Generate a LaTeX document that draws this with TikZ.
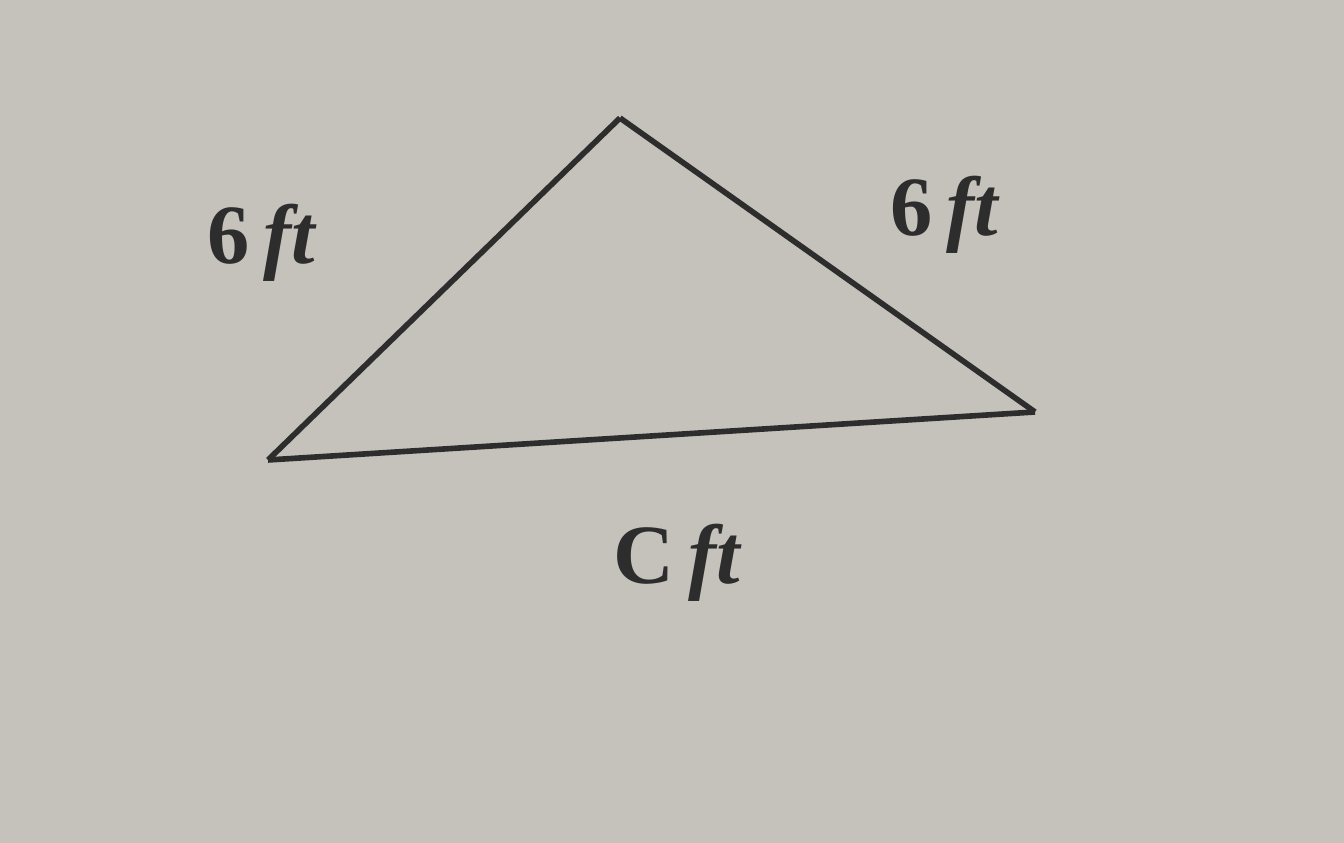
\documentclass[tikz,border=0pt]{standalone}
\usepackage{tikz}
\usepackage{amsmath}
\usepackage{fontspec}
\setmainfont{Liberation Serif}
\definecolor{paper}{RGB}{196,194,186}
\definecolor{ink}{RGB}{45,45,45}

\begin{document}
\begin{tikzpicture}[side_label/.style={text=ink,font=\fontsize{24}{28}\selectfont\bfseries,inner sep=2pt},
	edge_line/.style={draw=ink,line width=1.6pt,line join=round}]
		
		\fill[paper] (0,0) rectangle (13.44,8.43);
		
		\coordinate (top) at (6.20,7.25);
		\coordinate (left) at (2.68,3.83);
		\coordinate (right) at (10.35,4.31);
		
		\node[side_label] (a) at (2.62,6.00) {6\,\textit{ft}};
		\node[side_label] (b) at (9.45,6.28) {6\,\textit{ft}};
		\node[side_label] (c) at (6.78,2.80) {C\,\textit{ft}};

		\draw[edge_line] (left) -- (top);
		\draw[edge_line] (top) -- (right);
		\draw[edge_line] (right) -- (left);
		\end{tikzpicture}
\end{document}
